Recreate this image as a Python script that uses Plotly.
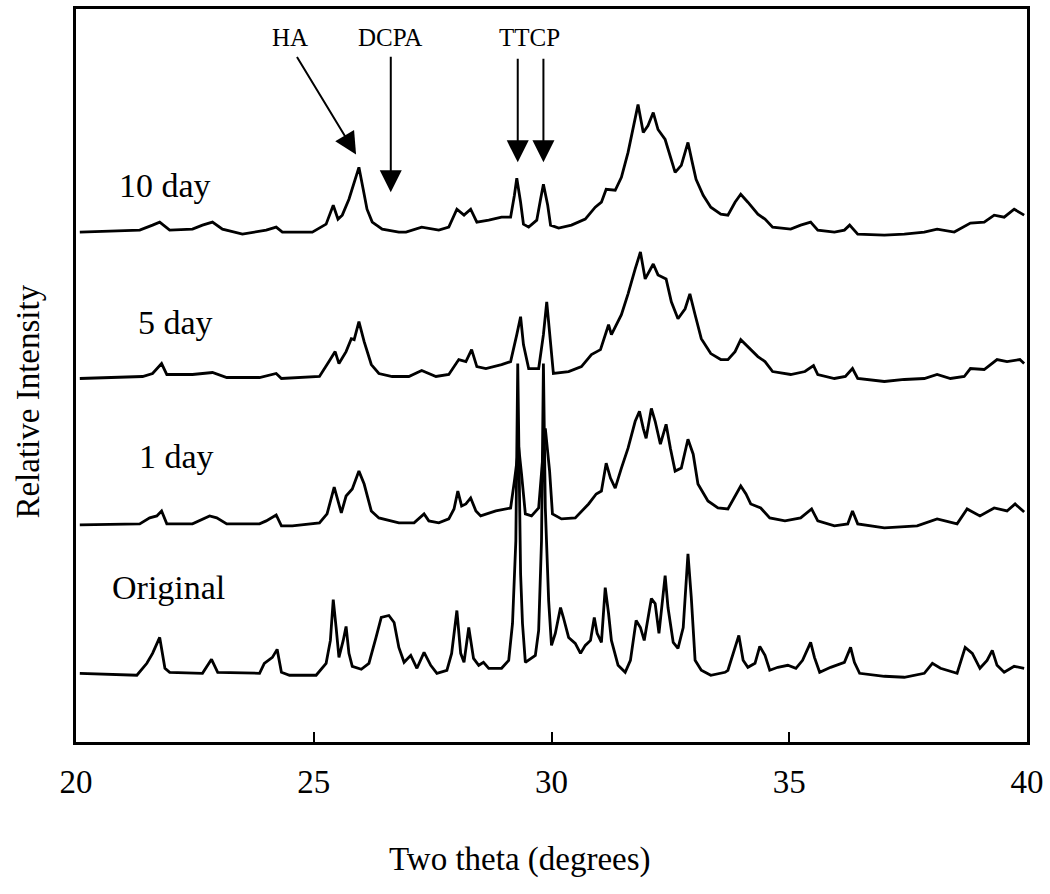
import plotly.graph_objects as go

# ---- data (two theta in degrees, relative intensity in arbitrary units) ----
orig_x = [20.08, 21.28, 21.49, 21.61, 21.76, 21.87, 21.97, 22.66, 22.85, 22.98, 23.86, 23.96, 24.13, 24.23,
          24.32, 24.49, 25.05, 25.26, 25.35, 25.41, 25.47, 25.53, 25.62, 25.68, 25.74, 25.81, 26.00, 26.16,
          26.31, 26.42, 26.58, 26.69, 26.79, 26.90, 27.04, 27.17, 27.32, 27.46, 27.59, 27.80, 27.90, 28.01,
          28.09, 28.16, 28.26, 28.36, 28.47, 28.57, 28.68, 28.95, 29.10, 29.18, 29.25, 29.29, 29.35, 29.39,
          29.45, 29.58, 29.66, 29.73, 29.79, 29.83, 29.87, 29.94, 30.00, 30.08, 30.19, 30.25, 30.36, 30.50,
          30.61, 30.71, 30.82, 30.90, 30.96, 31.05, 31.13, 31.20, 31.26, 31.40, 31.55, 31.66, 31.78, 31.87,
          31.95, 32.10, 32.18, 32.26, 32.39, 32.45, 32.56, 32.66, 32.77, 32.87, 32.94, 33.02, 33.15, 33.35,
          33.65, 33.71, 33.82, 33.94, 34.03, 34.13, 34.28, 34.38, 34.49, 34.59, 34.76, 34.97, 35.14, 35.28,
          35.45, 35.53, 35.64, 35.87, 36.16, 36.29, 36.37, 36.48, 37.00, 37.42, 37.84, 38.01, 38.18, 38.53,
          38.70, 38.85, 39.01, 39.16, 39.27, 39.37, 39.52, 39.73, 39.94]
orig_y = [69, 67, 79, 89, 105, 74, 70, 69, 83, 70, 69, 79, 85, 93,
          70, 67, 67, 79, 102, 143, 115, 85, 102, 116, 89, 76, 73, 79,
          105, 125, 127, 120, 95, 80, 87, 74, 90, 77, 69, 72, 89, 132,
          89, 80, 115, 84, 77, 80, 74, 74, 82, 119, 202, 380, 169, 119,
          80, 84, 87, 112, 202, 380, 235, 142, 97, 109, 135, 125, 105, 99,
          89, 97, 102, 125, 109, 100, 155, 129, 102, 77, 70, 82, 122, 115,
          102, 144, 139, 109, 167, 135, 100, 94, 115, 189, 145, 82, 72, 67,
          70, 72, 89, 107, 82, 75, 79, 96, 87, 72, 75, 77, 74, 82,
          100, 85, 70, 75, 80, 95, 80, 69, 66, 65, 69, 79, 74, 69,
          95, 89, 74, 82, 92, 77, 70, 76, 74]

day1_x = [20.08, 21.34, 21.55, 21.70, 21.80, 21.91, 22.45, 22.81, 22.96, 23.17, 23.86, 24.00, 24.21, 24.32,
          24.55, 25.12, 25.28, 25.43, 25.58, 25.68, 25.81, 25.95, 26.06, 26.21, 26.37, 26.79, 27.11, 27.32,
          27.42, 27.63, 27.84, 27.95, 28.03, 28.11, 28.20, 28.30, 28.41, 28.51, 28.83, 29.14, 29.22, 29.31,
          29.37, 29.45, 29.58, 29.73, 29.81, 29.87, 29.96, 30.02, 30.21, 30.50, 30.78, 30.94, 31.05, 31.15,
          31.24, 31.34, 31.47, 31.61, 31.76, 31.85, 31.93, 31.99, 32.10, 32.18, 32.29, 32.41, 32.50, 32.60,
          32.73, 32.87, 32.98, 33.08, 33.29, 33.50, 33.71, 33.86, 33.98, 34.09, 34.19, 34.40, 34.59, 34.91,
          35.24, 35.47, 35.60, 35.95, 36.23, 36.33, 36.44, 37.00, 37.69, 38.11, 38.53, 38.74, 39.01, 39.31,
          39.58, 39.75, 39.94]
day1_y = [218, 219, 225, 227, 232, 219, 219, 227, 225, 219, 219, 222, 228, 217,
          217, 220, 229, 256, 230, 247, 254, 272, 259, 232, 225, 220, 220, 229,
          222, 220, 224, 234, 252, 237, 239, 245, 232, 227, 232, 235, 262, 296,
          269, 229, 227, 235, 282, 315, 272, 229, 224, 225, 239, 249, 252, 280,
          265, 255, 275, 295, 322, 332, 315, 305, 335, 322, 299, 319, 295, 272,
          275, 304, 289, 259, 242, 235, 234, 247, 257, 249, 239, 235, 225, 222,
          225, 234, 222, 217, 219, 232, 219, 215, 217, 224, 219, 234, 227, 235,
          232, 239, 231]

day5_x = [20.08, 21.40, 21.61, 21.80, 21.91, 22.45, 22.87, 23.17, 23.86, 24.21, 24.32, 25.12, 25.32, 25.45,
          25.53, 25.68, 25.79, 25.85, 25.95, 26.06, 26.21, 26.37, 26.65, 27.00, 27.27, 27.57, 27.84, 28.05,
          28.20, 28.32, 28.43, 28.62, 28.95, 29.14, 29.27, 29.35, 29.41, 29.52, 29.73, 29.83, 29.90, 29.98,
          30.04, 30.36, 30.63, 30.84, 31.03, 31.20, 31.26, 31.47, 31.61, 31.76, 31.87, 31.97, 32.14, 32.24,
          32.41, 32.52, 32.66, 32.81, 32.91, 33.02, 33.15, 33.35, 33.56, 33.71, 33.86, 33.98, 34.13, 34.34,
          34.49, 34.65, 35.03, 35.33, 35.51, 35.60, 35.95, 36.18, 36.33, 36.44, 37.00, 37.42, 37.84, 38.11,
          38.39, 38.68, 38.81, 39.10, 39.37, 39.58, 39.85, 39.94]
day5_y = [365, 367, 370, 380, 369, 369, 371, 366, 366, 370, 365, 367, 382, 392,
          380, 392, 405, 404, 422, 402, 379, 370, 367, 367, 373, 367, 369, 384,
          382, 394, 377, 375, 379, 382, 409, 427, 399, 375, 375, 409, 442, 402,
          370, 372, 377, 389, 394, 419, 409, 429, 450, 475, 492, 465, 480, 469,
          465, 442, 425, 435, 450, 429, 405, 390, 384, 384, 392, 404, 397, 387,
          382, 372, 369, 372, 378, 369, 365, 367, 375, 365, 362, 364, 365, 369,
          365, 367, 375, 374, 384, 382, 384, 380]

day10_x = [20.08, 21.34, 21.61, 21.76, 21.97, 22.45, 22.66, 22.87, 23.08, 23.50, 24.00, 24.21, 24.34, 24.97,
           25.26, 25.41, 25.51, 25.60, 25.74, 25.85, 25.95, 26.04, 26.12, 26.23, 26.44, 26.79, 26.94, 27.27,
           27.63, 27.84, 28.01, 28.16, 28.30, 28.43, 28.68, 28.95, 29.14, 29.22, 29.27, 29.35, 29.41, 29.52,
           29.69, 29.77, 29.83, 29.92, 29.98, 30.15, 30.42, 30.71, 30.92, 31.05, 31.15, 31.34, 31.47, 31.61,
           31.76, 31.82, 31.93, 32.03, 32.14, 32.24, 32.39, 32.52, 32.60, 32.73, 32.87, 32.96, 33.04, 33.19,
           33.35, 33.56, 33.71, 33.86, 33.98, 34.13, 34.34, 34.49, 34.65, 35.03, 35.24, 35.45, 35.60, 35.95,
           36.16, 36.27, 36.44, 37.00, 37.42, 37.84, 38.11, 38.47, 38.81, 39.10, 39.31, 39.52, 39.73, 39.94]
day10_y = [512, 514, 519, 522, 514, 515, 519, 522, 515, 510, 514, 517, 512, 512,
           520, 539, 525, 529, 545, 562, 577, 555, 535, 522, 515, 512, 512, 517,
           514, 517, 535, 529, 535, 522, 524, 527, 527, 549, 566, 542, 520, 517,
           524, 545, 560, 539, 519, 516, 519, 525, 537, 542, 555, 554, 567, 592,
           629, 640, 612, 619, 632, 615, 605, 585, 572, 579, 602, 582, 565, 549,
           537, 530, 529, 542, 550, 542, 530, 525, 517, 515, 519, 522, 514, 512,
           514, 519, 510, 509, 510, 512, 515, 512, 521, 522, 529, 527, 535, 529]

x_ticks = [20, 25, 30, 35, 40]
series_names = ["Original", "1 day", "5 day", "10 day"]
label_pos_x = [20.72, 21.28, 21.26, 20.86]
label_pos_y = [155, 287, 421, 559]
phase_names = ["HA", "DCPA", "TTCP"]
phase_label_x = [24.51, 26.60, 29.54]
arrow_tip_x = [25.89, 26.62, 29.29, 29.83]
arrow_tip_y = [590, 552, 582, 582]
arrow_dx = [-60, 0, 0, 0]
arrow_dy = [-99, -137, -105, -105]

FONT = "Liberation Serif, Times New Roman, serif"

fig = go.Figure()
for xs, ys, nm in [(orig_x, orig_y, series_names[0]), (day1_x, day1_y, series_names[1]),
                   (day5_x, day5_y, series_names[2]), (day10_x, day10_y, series_names[3])]:
    fig.add_trace(go.Scatter(x=xs, y=ys, mode="lines", name=nm,
                             line=dict(color="black", width=2.8), showlegend=False))

annotations = []
for nm, lx, ly in zip(series_names, label_pos_x, label_pos_y):
    annotations.append(dict(x=lx, y=ly, xref="x", yref="y", text=nm, showarrow=False,
                            xanchor="left", yanchor="middle",
                            font=dict(family=FONT, size=34, color="black")))
for nm, lx in zip(phase_names, phase_label_x):
    annotations.append(dict(x=lx, y=707, xref="x", yref="y", text=nm, showarrow=False,
                            xanchor="center", yanchor="middle",
                            font=dict(family=FONT, size=25, color="black")))
for tx, ty, dx, dy in zip(arrow_tip_x, arrow_tip_y, arrow_dx, arrow_dy):
    annotations.append(dict(x=tx, y=ty, xref="x", yref="y", text="", showarrow=True,
                            ax=dx, ay=dy, arrowhead=2, arrowsize=2.2, arrowwidth=2,
                            arrowcolor="black", standoff=0))
annotations.append(dict(x=(28 - 76) / 954, y=(742 - 400) / 736, xref="paper", yref="paper",
                        text="Relative Intensity",
                        showarrow=False, textangle=-90, xanchor="center", yanchor="middle",
                        font=dict(family=FONT, size=33, color="black")))
annotations.append(dict(x=(521 - 76) / 954, y=(742 - 860) / 736, xref="paper", yref="paper",
                        text="Two theta (degrees)",
                        showarrow=False, xanchor="center", yanchor="middle",
                        font=dict(family=FONT, size=33, color="black")))

fig.update_layout(
    width=1050, height=894,
    margin=dict(l=76, r=20, t=6, b=152),
    paper_bgcolor="white", plot_bgcolor="white",
    annotations=annotations,
    xaxis=dict(range=[20, 40], tickvals=x_ticks, ticks="inside", ticklen=10, tickwidth=1.5,
               tickcolor="black", showline=True, linecolor="black", linewidth=3, mirror=True,
               showgrid=False, zeroline=False, ticklabelstandoff=8, ticklabeloverflow="allow",
               tickfont=dict(family=FONT, size=33, color="black")),
    yaxis=dict(range=[0, 736], showticklabels=False, ticks="", showline=True, linecolor="black",
               linewidth=3, mirror=True, showgrid=False, zeroline=False),
)

fig.write_html("out.html", config={"displayModeBar": False},
               post_script="document.body.style.margin='0px';document.body.style.overflow='hidden';")
